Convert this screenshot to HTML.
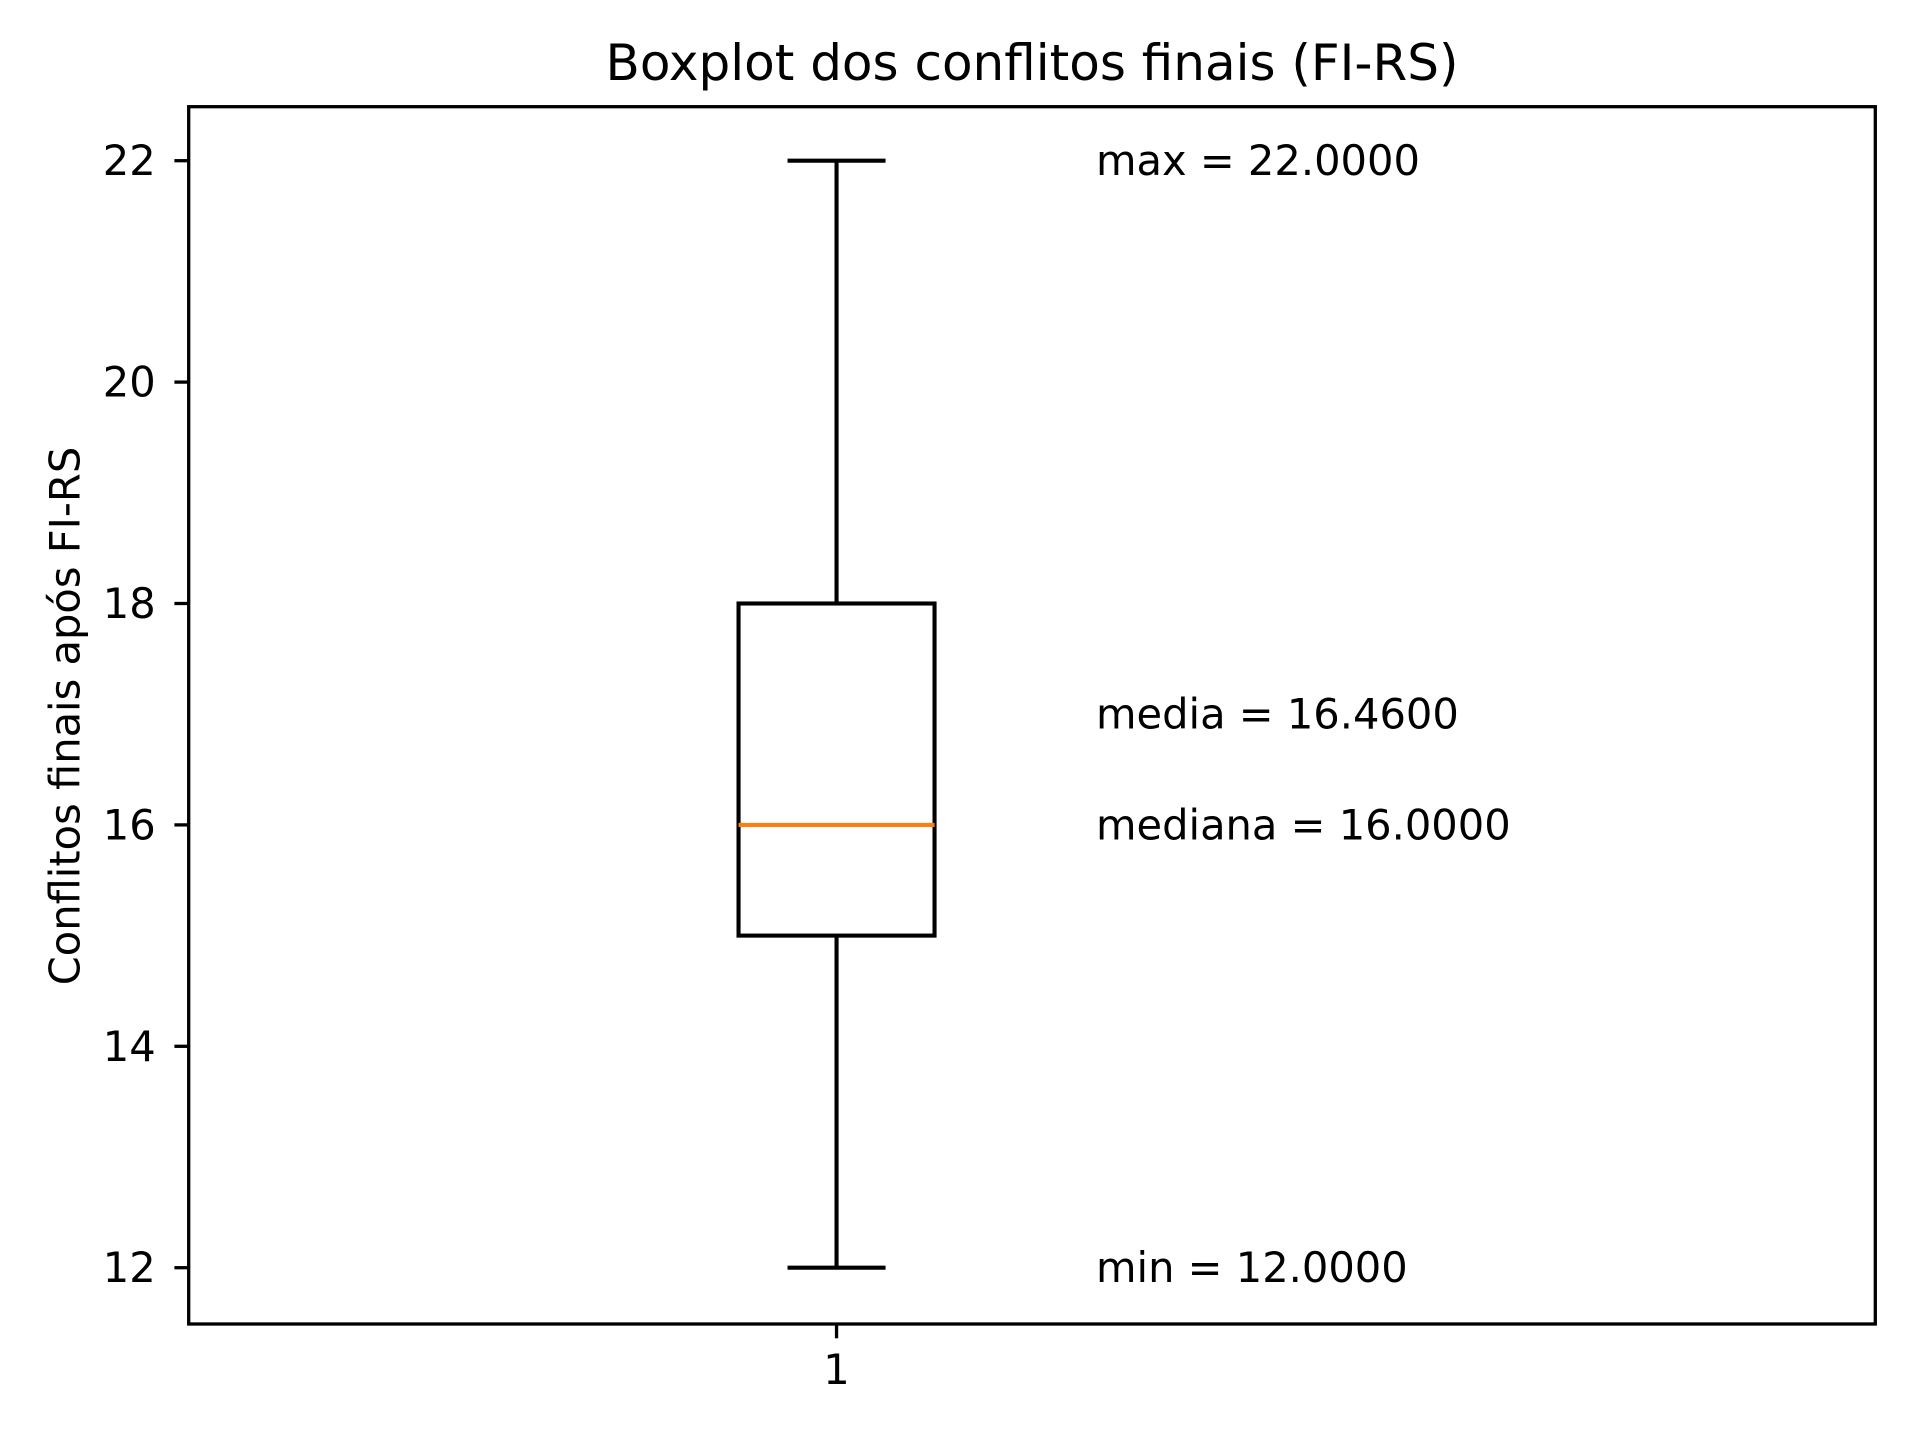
<!DOCTYPE html>
<html><head><meta charset="utf-8"><style>
html,body{margin:0;padding:0;background:#fff;}
svg{display:block;font-family:"DejaVu Sans","Liberation Sans",sans-serif;}
</style></head><body>
<svg id="chart" width="1920" height="1440" viewBox="0 0 1920 1440">
<rect x="0" y="0" width="1920" height="1440" fill="#fff"/>
<text x="1032" y="80" font-size="50" text-anchor="middle">Boxplot dos conflitos finais (FI-RS)</text>
<text transform="translate(65,716) rotate(-90)" font-size="41.6" text-anchor="middle" dominant-baseline="central">Conflitos finais após FI-RS</text>
<g id="plot"></g>
<rect x="188.7" y="106.7" width="1686.6" height="1217.3" fill="none" stroke="#000" stroke-width="3.3"/>
</svg>
<script>
const yTicks=[12,14,16,18,20,22];
const xCategories=["1"];
const stats={min:12,q1:15,median:16,q3:18,max:22};
const annotLabels=["max = 22.0000","media = 16.4600","mediana = 16.0000","min = 12.0000"];
const annotValues=[22,17,16,12];

const L=188.7,R=1875.3,T=106.7,B=1324;
const XMIN=0.5,XMAX=1.8017;
const y=v=>160.7+(22-v)*(1267.7-160.7)/10;
const x=c=>L+(R-L)*(c-XMIN)/(XMAX-XMIN);
const NS="http://www.w3.org/2000/svg";
const g=document.getElementById('plot');
function mk(tag,attrs,parent){const e=document.createElementNS(NS,tag);for(const k in attrs)e.setAttribute(k,attrs[k]);(parent||g).appendChild(e);return e;}

yTicks.forEach(v=>{
  const t=mk('line',{x1:L-14.3,x2:L,y1:y(v),y2:y(v),stroke:'#000','stroke-width':3.3});
  
  
  const tx=mk('text',{x:L-33,y:y(v),'font-size':41.6,'text-anchor':'end','dominant-baseline':'central'});
  tx.textContent=v;
  
  
});
xCategories.forEach((c,i)=>{
  const cx=x(i+1);
  const t=mk('line',{x1:cx,x2:cx,y1:B,y2:B+14.3,stroke:'#000','stroke-width':3.3});
  
  
  const tx=mk('text',{x:cx,y:B+29,'font-size':41.6,'text-anchor':'middle','dominant-baseline':'hanging'});
  tx.textContent=c;
  
  
});
const cx=x(1),hw=98,cw=49,sw=4.1;
const w1=mk('line',{x1:cx,x2:cx,y1:y(stats.q3),y2:y(stats.max),stroke:'#000','stroke-width':sw});


const w2=mk('line',{x1:cx,x2:cx,y1:y(stats.q1),y2:y(stats.min),stroke:'#000','stroke-width':sw});


const c1=mk('line',{x1:cx-cw,x2:cx+cw,y1:y(stats.max),y2:y(stats.max),stroke:'#000','stroke-width':sw});


const c2=mk('line',{x1:cx-cw,x2:cx+cw,y1:y(stats.min),y2:y(stats.min),stroke:'#000','stroke-width':sw});


const box=mk('rect',{x:cx-hw,y:y(stats.q3),width:2*hw,height:y(stats.q1)-y(stats.q3),fill:'none',stroke:'#000','stroke-width':sw});


const med=mk('line',{x1:cx-hw,x2:cx+hw,y1:y(stats.median),y2:y(stats.median),stroke:'#ff7f0e','stroke-width':sw});


annotLabels.forEach((s,i)=>{
  const tx=mk('text',{x:1096,y:y(annotValues[i]),'font-size':41.6,'dominant-baseline':'central'});
  tx.textContent=s;
  
  
});
</script>
</body></html>
